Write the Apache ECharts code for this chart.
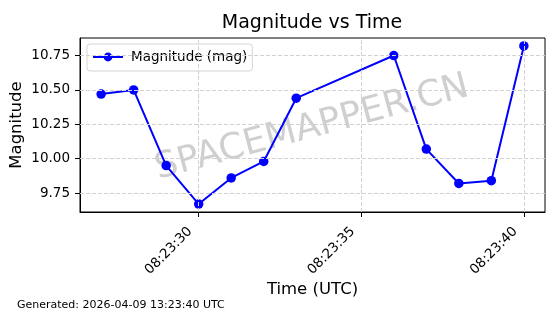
<!DOCTYPE html>
<html>
<head>
<meta charset="utf-8">
<script src="https://cdn.jsdelivr.net/npm/echarts@6/dist/echarts.min.js"></script>
<style>html,body{margin:0;padding:0;background:#fff}#c{width:560px;height:314px}</style>
</head>
<body>
<div id="c"></div>
<script>
// Data
var times = ["08:23:27","08:23:28","08:23:29","08:23:30","08:23:31","08:23:32","08:23:33","08:23:36","08:23:37","08:23:38","08:23:39","08:23:40"];
var magnitudes = [10.47, 10.50, 9.95, 9.67, 9.86, 9.98, 10.44, 10.75, 10.07, 9.82, 9.84, 10.82];
var xTickLabels = ["08:23:30", "08:23:35", "08:23:40"];
var yTickValues = [9.75, 10.00, 10.25, 10.50, 10.75];

function toSec(t) { var p = t.split(":"); return (+p[1] - 23) * 60 + (+p[2]); }
function fmtSec(s) { var m = 23 + Math.floor(s / 60), ss = s % 60; return "08:" + (m < 10 ? "0" : "") + m + ":" + (ss < 10 ? "0" : "") + ss; }

var xs = times.map(toSec);
var xTickValues = xTickLabels.map(toSec);
var seriesData = xs.map(function (x, i) { return [x, magnitudes[i]]; });

var xmin = Math.min.apply(null, xs), xmax = Math.max.apply(null, xs);
var ymin = Math.min.apply(null, magnitudes), ymax = Math.max.apply(null, magnitudes);
var xpad = (xmax - xmin) * 0.05, ypad = (ymax - ymin) * 0.05;

var FONT = "DejaVu Sans";
var gridLineStyle = { color: "#d2d2d2", type: [4, 2], width: 1 };
var mlData = xTickValues.map(function (v) { return { xAxis: v }; })
  .concat(yTickValues.map(function (v) { return { yAxis: v }; }));

var chart = echarts.init(document.getElementById("c"), null, { renderer: "canvas" });
chart.setOption({
  animation: false,
  textStyle: { fontFamily: FONT },
  grid: { left: 80, right: 15, top: 38, bottom: 102, containLabel: false, outerBoundsMode: "none", show: true, borderColor: "#000", borderWidth: 1, backgroundColor: "transparent" },
  xAxis: {
    type: "value", min: xmin - xpad, max: xmax + xpad,
    name: "Time (UTC)", nameLocation: "middle", nameGap: 69, nameMoveOverlap: false,
    nameTextStyle: { fontSize: 16.5, color: "#000", fontFamily: FONT },
    axisLine: { show: true, lineStyle: { color: "#000", width: 1 } },
    axisTick: { show: true, inside: false, length: 5, lineStyle: { color: "#000" }, customValues: xTickValues },
    axisLabel: { rotate: 45, margin: 9, padding: [0, 12, 0, 0], fontSize: 13.5, color: "#000", fontFamily: FONT, customValues: xTickValues, formatter: function (v) { return fmtSec(Math.round(v)); } },
    splitLine: { show: false }
  },
  yAxis: {
    type: "value", min: ymin - ypad, max: ymax + ypad,
    name: "Magnitude", nameLocation: "middle", nameGap: 55, nameMoveOverlap: false,
    nameTextStyle: { fontSize: 16.5, color: "#000", fontFamily: FONT },
    axisLine: { show: true, lineStyle: { color: "#000", width: 1 } },
    axisTick: { show: true, inside: false, length: 5, lineStyle: { color: "#000" }, customValues: yTickValues },
    axisLabel: { margin: 10, fontSize: 13.5, color: "#000", fontFamily: FONT, customValues: yTickValues, formatter: function (v) { return v.toFixed(2); } },
    splitLine: { show: false }
  },
  legend: {
    data: ["Magnitude (mag)"], left: 87, top: 44, orient: "vertical",
    padding: [6, 5, 7, 5], itemWidth: 30, itemHeight: 11, itemGap: 8,
    borderColor: "#d5d5d5", borderWidth: 1, borderRadius: 3, backgroundColor: "rgba(255,255,255,0.8)",
    textStyle: { fontSize: 13.5, color: "#000", fontFamily: FONT, padding: [0, 0, 0, 3] }
  },
  graphic: [
    { type: "text", x: 312, y: 23, z: 10, style: { text: "Magnitude vs Time", font: "19px 'DejaVu Sans'", fill: "#000", textAlign: "center", textVerticalAlign: "middle" } },
    { type: "text", x: 17, y: 305, z: 10, style: { text: "Generated: 2026-04-09 13:23:40 UTC", font: "11px 'DejaVu Sans'", fill: "#000", textAlign: "left", textVerticalAlign: "middle" } },
    { type: "text", x: 312, y: 128, z: 1, rotation: 15 * Math.PI / 180, style: { text: "SPACEMAPPER.CN", font: "36px 'DejaVu Sans'", fill: "rgba(128,128,128,0.38)", textAlign: "center", textVerticalAlign: "middle" } }
  ],
  series: [
    {
      type: "line", name: "gridlines", data: [], z: 1, silent: true,
      markLine: { silent: true, symbol: "none", label: { show: false }, lineStyle: gridLineStyle, emphasis: { disabled: true }, data: mlData, animation: false }
    },
    {
      type: "line", name: "Magnitude (mag)", data: seriesData, z: 3,
      symbol: "circle", symbolSize: 9.5, showAllSymbol: true,
      lineStyle: { color: "#0000ff", width: 2 },
      itemStyle: { color: "#0000ff" }
    }
  ]
});
</script>
</body>
</html>
